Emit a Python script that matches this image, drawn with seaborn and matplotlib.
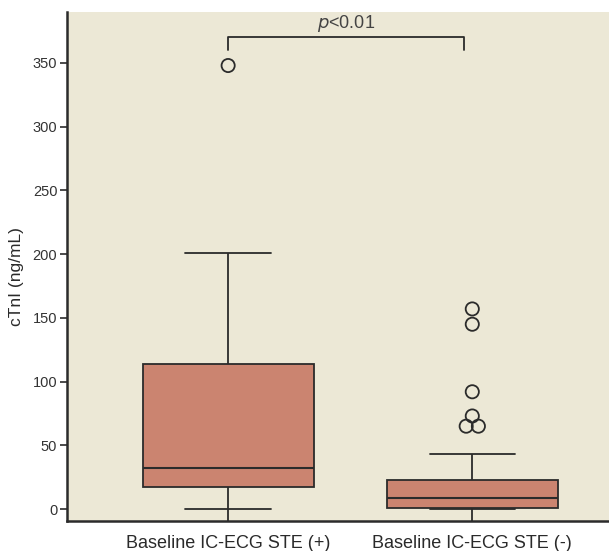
import numpy as np
import pandas as pd
import matplotlib
matplotlib.use("Agg")
import matplotlib.pyplot as plt
import seaborn as sns

# ---- data ----
categories = ["Baseline IC-ECG STE (+)", "Baseline IC-ECG STE (-)"]
# group 1: min 0, Q1 17, median 32, Q3 114, upper whisker 201, outlier 348
group_pos = [0, 10, 17, 25, 32, 80, 114, 201, 348]
# group 2: min 0, Q1 1, median 9, Q3 23, upper whisker 43, outliers 65,65,73,92,145,157
group_neg = [0, 0, 0, 0, 0, 1, 1, 1,
             2, 3, 4, 5, 6, 8, 9,
             11, 13, 15, 17, 19, 21, 23,
             43, 65, 65, 73, 92, 145, 157]
y_ticks = [0, 50, 100, 150, 200, 250, 300, 350]
y_label = "cTnI (ng/mL)"

df = pd.DataFrame({
    "group": [categories[0]] * len(group_pos) + [categories[1]] * len(group_neg),
    "value": group_pos + group_neg,
})

# outliers (1.5 IQR rule), computed from the data; tied values are spread
# symmetrically side by side so that they stay visible
tie_step = 0.05
ox, oy = [], []
for gi, vals in enumerate([group_pos, group_neg]):
    v = np.asarray(vals, float)
    q1, q3 = np.percentile(v, [25, 75])
    iqr = q3 - q1
    out = v[(v > q3 + 1.5 * iqr) | (v < q1 - 1.5 * iqr)]
    uniq, counts = np.unique(out, return_counts=True)
    for u, c in zip(uniq, counts):
        offs = (np.arange(c) - (c - 1) / 2) * tie_step
        ox.extend(gi + offs)
        oy.extend([u] * c)
out_df = pd.DataFrame({"x": ox, "value": oy})

sns.set_style("ticks")
plt.rcParams["font.family"] = ["Liberation Sans", "DejaVu Sans"]

box_color = "#cb8470"
bg_color = "#ece8d6"
line_color = "#2b2b2b"

fig = plt.figure(figsize=(6.09, 5.51), dpi=100)
fig.patch.set_facecolor("white")
ax = fig.add_axes([67 / 609, 30 / 551, 1 - 67 / 609, (521 - 12) / 551])
ax.set_facecolor(bg_color)

sns.boxplot(data=df, x="group", y="value", order=categories, ax=ax,
            color=box_color, saturation=1, width=0.70, showfliers=False,
            linewidth=1.3, linecolor=line_color,
            boxprops=dict(edgecolor=line_color),
            whiskerprops=dict(color=line_color, linewidth=1.3),
            capprops=dict(color=line_color, linewidth=1.3),
            medianprops=dict(color=line_color, linewidth=1.5))

sns.scatterplot(data=out_df, x="x", y="value", ax=ax, marker="o", s=90,
                facecolor="none", edgecolor=line_color, linewidth=1.3,
                zorder=5, legend=False)

# whisker stems continue to the axis floor
ylim_bottom = -9.4
for i, vals in enumerate([group_pos, group_neg]):
    ax.vlines(i, ylim_bottom, min(vals), color=line_color, linewidth=1.3, zorder=1)

ax.set_ylim(ylim_bottom, 390)
ax.set_xlim(-0.66, 1.56)
ax.set_xticks([0, 1])
ax.set_xticklabels(categories)
ax.set_yticks(y_ticks)
ax.set_yticklabels([str(t) for t in y_ticks], fontsize=10.5, color="#333333")
ax.tick_params(axis="y", length=5, width=1.2, color=line_color, pad=2)
ax.tick_params(axis="x", length=0, pad=10, labelsize=13, labelcolor="#2a2a2a")
ax.set_xlabel("")
ax.set_ylabel(y_label, fontsize=12.5, color="#2a2a2a")
ax.yaxis.set_label_coords(-0.08, 0.48)

for s in ["top", "right"]:
    ax.spines[s].set_visible(False)
for s in ["left", "bottom"]:
    ax.spines[s].set_linewidth(1.8)
    ax.spines[s].set_color(line_color)

# significance bracket
y_br, y_tip = 370.5, 360
ax.plot([0, 0, 0.967, 0.967], [y_tip, y_br, y_br, y_tip], color=line_color, linewidth=1.3)
ax.text(0.483, y_br + 2.5, r"$\mathit{p}$<0.01", ha="center", va="bottom",
        fontsize=13, color="#444444")

fig.savefig("out.png", dpi=100, facecolor="white")
